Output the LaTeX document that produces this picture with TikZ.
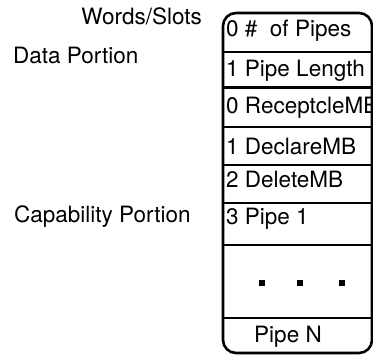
\documentclass[tikz,border=0pt]{standalone}
\usepackage{fontspec}
\setmainfont{TeX Gyre Heros}
\usetikzlibrary{arrows, shapes}

\begin{document}
\begin{tikzpicture}[x=1pt, y=-1pt]
    \tikzstyle{every node} = [inner sep=0pt, font=\fontsize{22.5}{26}\selectfont]
    \tikzstyle{slot} = [anchor=base west]
    \tikzstyle{sep} = [line width=1.1pt]
    \tikzstyle{bullet} = [shape=rectangle, fill, minimum size=6pt]
    \useasboundingbox (0,0) rectangle (373,355);
    \node (words) [anchor=base east] at (202,25) {Words/Slots};
    \node (data) [anchor=base west] at (13,64) {Data Portion};
    \node (capab) [anchor=base west] at (14,223) {Capability Portion};
    \node (nopipes) [slot] at (226,37) {0 \#\ \ of Pipes};
    \node (pipelen) [slot] at (226,77) {1 Pipe Length};
    \node (recept) [slot] at (226,114) {0 ReceptcleMB};
    \node (declare) [slot] at (226,155) {1 DeclareMB};
    \node (delete) [slot] at (226,188) {2 DeleteMB};
    \node (pipe1) [slot] at (226,225) {3 Pipe 1};
    \node (d1) [bullet] at (262,283) {};
    \node (d2) [bullet] at (300,283) {};
    \node (d3) [bullet] at (342,283) {};
    \node (pipen) [anchor=base] at (288,343) {Pipe N};
      \draw [sep] (223,52) -- (372,52);
      \draw [line width=3pt] (223,88) -- (372,88);
      \draw [sep] (223,127) -- (372,127);
      \draw [sep] (223,165) -- (372,165);
      \draw [sep] (223,203) -- (372,203);
      \draw [sep] (223,245) -- (372,245);
      \draw [sep] (223,318) -- (372,318);
      \draw [line width=2.6pt, rounded corners=13pt] (223,13) rectangle (372,353);
  \end{tikzpicture}
\end{document}
